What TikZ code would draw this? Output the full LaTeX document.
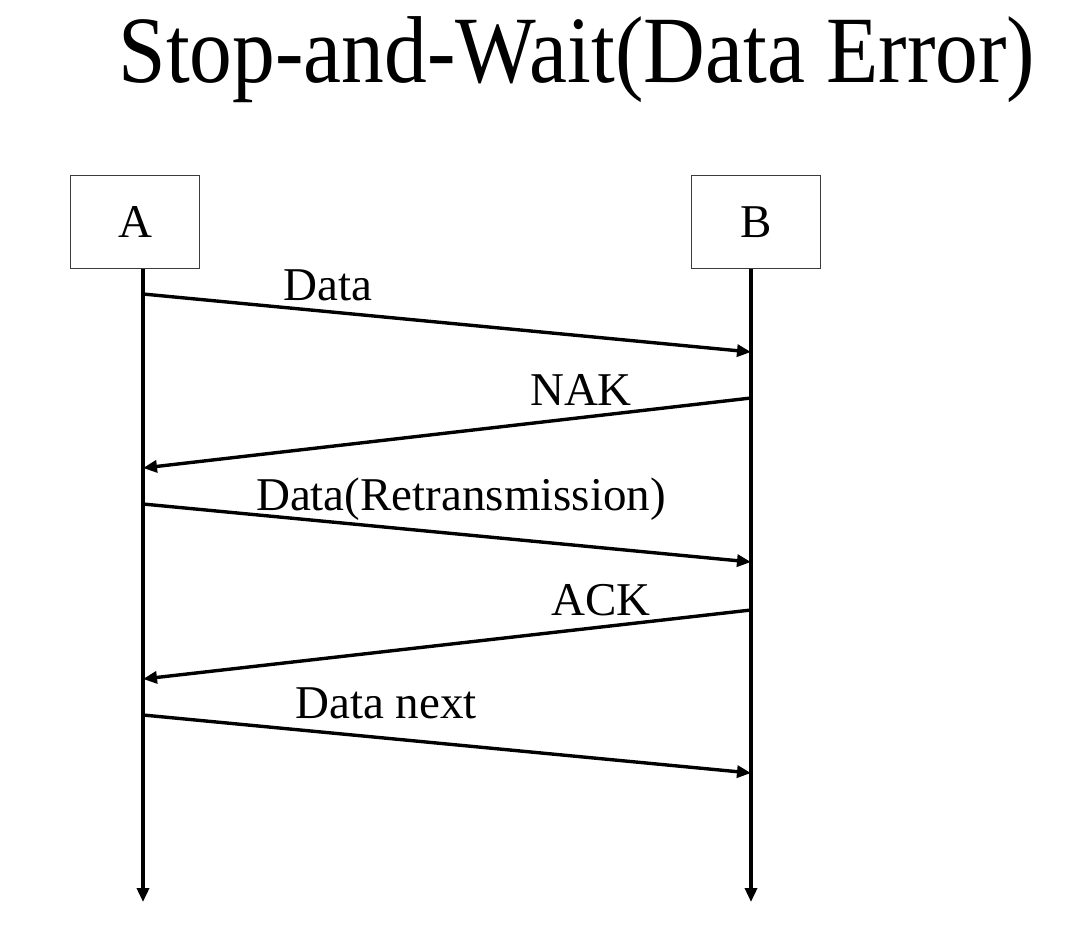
\documentclass[tikz,border=0pt]{standalone}
\usepackage{fontspec}
\setmainfont{Liberation Serif}
\newfontfamily\headfont[FakeStretch=0.9]{Liberation Serif}
\usetikzlibrary{arrows.meta,positioning}
\usepackage{xcolor}
\definecolor{ink}{HTML}{000000}
\definecolor{frame}{HTML}{3C3C3C}
\tikzset{
  >={Triangle[length=14pt,width=12pt]},
  every node/.style={text=ink},
  party/.style={draw=frame,line width=1.5pt,fill=white,minimum width=129pt,minimum height=93pt,inner sep=0pt,font=\fontsize{47}{50}\selectfont},
  msg/.style={->,line width=3.4pt,draw=ink},
  life/.style={->,line width=3.4pt,draw=ink},
  lbl/.style={anchor=base,inner sep=0pt,font=\fontsize{47}{50}\selectfont},
  heading/.style={anchor=base,inner sep=0pt,font=\headfont\fontsize{95}{98}\selectfont},
}
\begin{document}
\begin{tikzpicture}[x=1pt,y=-1pt]
\useasboundingbox (0,0) rectangle (1074,932);

\node[heading] (title) at (577,82) {Stop-and-Wait(Data Error)};

\node[party] (a) at (135,222) {A};
\node[party] (b) at (756,222) {B};

% lifelines
\coordinate (aend) at (143,902);
\coordinate (bend) at (751,902);
\draw[life] (a.south -| aend) -- (aend);
\draw[life] (b.south -| bend) -- (bend);

% message ends on the lifelines
\coordinate (a1) at (143,294);
\coordinate (b1) at (751,352);
\coordinate (b2) at (751,398);
\coordinate (a2) at (143,468);
\coordinate (a3) at (143,504);
\coordinate (b3) at (751,562);
\coordinate (b4) at (751,610);
\coordinate (a4) at (143,679);
\coordinate (a5) at (143,715);
\coordinate (b5) at (751,773);

\draw[msg] (a1) -- (b1);
\draw[msg] (b2) -- (a2);
\draw[msg] (a3) -- (b3);
\draw[msg] (b4) -- (a4);
\draw[msg] (a5) -- (b5);

\node[lbl] (ldata) at (328,300) {Data};
\node[lbl] (lnak) at (581,405) {NAK};
\node[lbl] (lretx) at (461,510) {Data(Retransmission)};
\node[lbl] (lack) at (601,615) {ACK};
\node[lbl] (lnext) at (386,718) {Data next};

\end{tikzpicture}
\end{document}
